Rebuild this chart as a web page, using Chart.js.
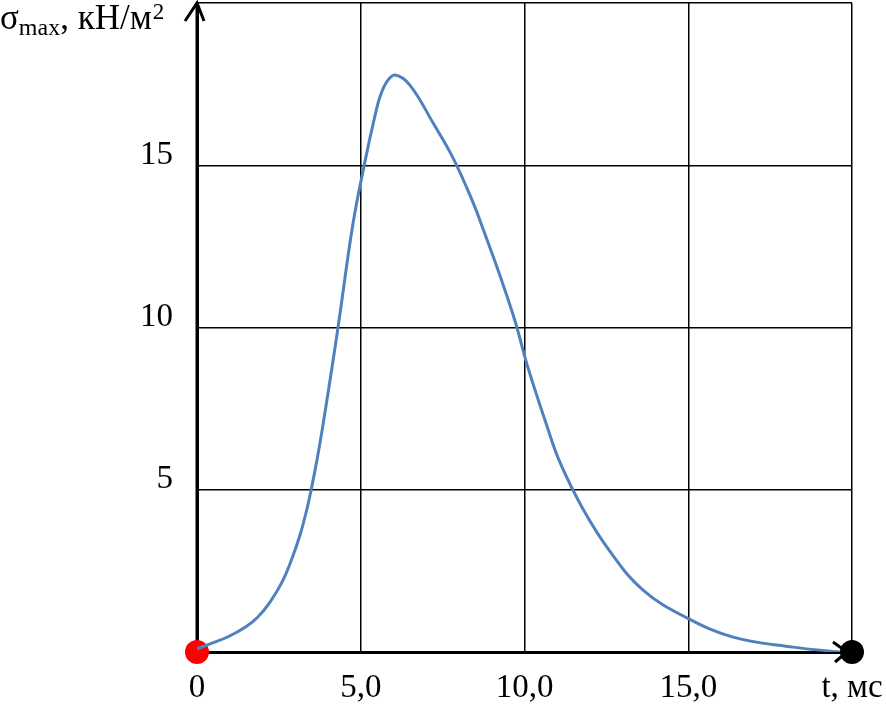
<!DOCTYPE html>
<html>
<head>
<meta charset="utf-8">
<script src="https://cdn.jsdelivr.net/npm/chart.js@4.4.1/dist/chart.umd.min.js"></script>
<style>
  html, body { margin: 0; padding: 0; background: #fff; }
  #wrap { width: 886px; height: 708px; }
</style>
</head>
<body>
<div id="wrap"><canvas id="c" width="886" height="708"></canvas></div>
<script>
// time, ms
const tValues = [0, 0.40, 0.95, 1.47, 1.86, 2.23, 2.60, 2.90, 3.15, 3.36, 3.51, 3.66, 3.82, 4.15, 4.34, 4.76, 5.13, 5.44, 5.59, 5.80, 6.05, 6.50, 7.21, 7.82, 8.43, 8.73, 9.25, 9.71, 10.08, 10.69, 11.08, 11.79, 12.61, 13.62, 14.96, 16.37, 18.20, 19.63];
// sigma_max, kN/m2
const sigmaValues = [0.10, 0.25, 0.47, 0.76, 1.08, 1.54, 2.16, 2.88, 3.62, 4.42, 5.12, 5.90, 6.83, 8.95, 10.24, 13.18, 15.12, 16.55, 17.12, 17.58, 17.78, 17.47, 16.30, 15.22, 13.85, 13.05, 11.60, 10.20, 8.85, 6.95, 5.85, 4.40, 3.10, 1.91, 1.05, 0.46, 0.15, 0.0];

const xTickValues = [0, 5, 10, 15, 20];
const xTickLabels = ['0', '5,0', '10,0', '15,0', 't, мс'];
const yTickValues = [5, 10, 15];
const yTickLabels = ['5', '10', '15'];

const markerT = [0, 20];
const markerSigma = [0, 0];
const markerColors = ['#ff0000', '#000000'];

const FONT = "'Liberation Serif', 'Times New Roman', serif";

const decor = {
  id: 'decor',
  beforeDatasetsDraw(chart) {
    const ctx = chart.ctx;
    const a = chart.chartArea;
    ctx.save();
    ctx.strokeStyle = '#000';
    ctx.lineWidth = 3;
    ctx.lineCap = 'butt';
    ctx.lineJoin = 'miter';
    // y-axis arrow
    ctx.beginPath();
    ctx.moveTo(a.left - 12, a.top + 18);
    ctx.lineTo(a.left, a.top);
    ctx.lineTo(a.left + 7, a.top + 18);
    ctx.stroke();
    ctx.beginPath();
    ctx.moveTo(a.left, a.top + 2);
    ctx.lineTo(a.left, a.bottom);
    ctx.stroke();
    // x-axis arrow
    ctx.beginPath();
    ctx.moveTo(a.right - 19, a.bottom - 10);
    ctx.lineTo(a.right - 5, a.bottom);
    ctx.lineTo(a.right - 17, a.bottom + 10);
    ctx.stroke();
    ctx.restore();
  },
  afterDraw(chart) {
    const ctx = chart.ctx;
    ctx.save();
    ctx.fillStyle = '#000';
    ctx.textBaseline = 'alphabetic';
    ctx.textAlign = 'left';
    let x = 0;
    const base = 29;
    ctx.font = '35px ' + FONT;
    ctx.fillText('σ', x, base);
    x += ctx.measureText('σ').width;
    ctx.font = '24px ' + FONT;
    ctx.fillText('max', x, base + 6);
    x += ctx.measureText('max').width;
    ctx.font = '35px ' + FONT;
    ctx.fillText(', кН/м', x, base);
    x += ctx.measureText(', кН/м').width;
    ctx.font = '23px ' + FONT;
    ctx.fillText('2', x + 1, base - 10);
    ctx.restore();
  }
};

new Chart(document.getElementById('c'), {
  type: 'line',
  data: {
    datasets: [
      {
        label: 'σmax',
        data: tValues.map((t, i) => ({ x: t, y: sigmaValues[i] })),
        borderColor: '#4f81bd',
        borderWidth: 3,
        pointRadius: 0,
        fill: false,
        tension: 0.4
      },
      {
        label: 'markers',
        data: markerT.map((t, i) => ({ x: t, y: markerSigma[i] })),
        showLine: false,
        pointRadius: 12,
        pointBorderWidth: 0,
        pointBackgroundColor: markerColors,
        pointBorderColor: markerColors,
        clip: false
      }
    ]
  },
  options: {
    responsive: false,
    animation: false,
    layout: { autoPadding: false, padding: { top: 3, right: 34, left: 0, bottom: 0 } },
    plugins: { legend: { display: false }, tooltip: { enabled: false } },
    scales: {
      x: {
        type: 'linear',
        min: 0,
        max: 20,
        afterBuildTicks(scale) { scale.ticks = xTickValues.map(v => ({ value: v })); },
        afterFit(scale) { scale.height = 56; scale.paddingRight = 0; scale.paddingLeft = 0; },
        grid: { color: '#000', lineWidth: 1.5, drawTicks: false },
        border: { color: '#000', width: 3 },
        ticks: {
          color: '#000',
          font: { family: FONT, size: 33 },
          padding: 17,
          maxRotation: 0,
          autoSkip: false,
          callback(v) { const i = xTickValues.indexOf(v); return i >= 0 ? xTickLabels[i] : ''; }
        }
      },
      y: {
        type: 'linear',
        min: 0,
        max: 20,
        afterBuildTicks(scale) { scale.ticks = [0, 5, 10, 15, 20].map(v => ({ value: v })); },
        afterFit(scale) { scale.width = 197; scale.paddingTop = 0; scale.paddingBottom = 0; },
        grid: { color: '#000', lineWidth: 1.5, drawTicks: false },
        border: { color: '#000', width: 3 },
        ticks: {
          color: '#000',
          font: { family: FONT, size: 33 },
          padding: 24,
          labelOffset: -10,
          autoSkip: false,
          callback(v) { const i = yTickValues.indexOf(v); return i >= 0 ? yTickLabels[i] : ''; }
        }
      }
    }
  },
  plugins: [decor]
});
</script>
</body>
</html>
